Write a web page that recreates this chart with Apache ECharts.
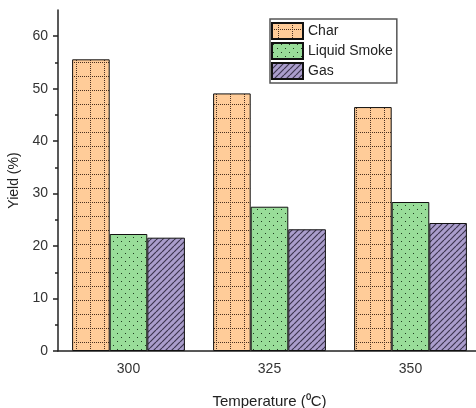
<!DOCTYPE html>
<html><head><meta charset="utf-8">
<script src="https://cdn.jsdelivr.net/npm/echarts@6/dist/echarts.min.js"></script>
<style>html,body{margin:0;padding:0;background:#fff}#c{width:476px;height:408px}</style>
</head><body><div id="c"></div>
<script>
const categories = ['300', '325', '350'];
const charValues = [55.6, 49.1, 46.5];
const liquidSmokeValues = [22.3, 27.5, 28.4];
const gasValues = [21.6, 23.2, 24.4];
const yTickValues = [0, 10, 20, 30, 40, 50, 60];
const yMinorTickValues = [5, 15, 25, 35, 45, 55];

function makePattern(kind) {
  const c = document.createElement('canvas');
  const ctx = c.getContext('2d');
  if (kind === 'char') {
    c.width = 14; c.height = 14;
    ctx.fillStyle = '#FFCC99'; ctx.fillRect(0, 0, 14, 14);
    ctx.fillStyle = '#4a3020';
    for (let i = 0; i < 14; i += 2) {
      ctx.fillRect(i, 6, 1, 1);
      ctx.fillRect(6, i, 1, 1);
    }
  } else if (kind === 'liquid') {
    c.width = 8; c.height = 8;
    ctx.fillStyle = '#99DD99'; ctx.fillRect(0, 0, 8, 8);
    ctx.fillStyle = '#1e3a1e';
    ctx.fillRect(1, 1, 1, 1);
    ctx.fillRect(5, 5, 1, 1);
  } else {
    c.width = 6; c.height = 6;
    ctx.fillStyle = '#AA9DCC'; ctx.fillRect(0, 0, 6, 6);
    ctx.strokeStyle = '#3d3550'; ctx.lineWidth = 1.2;
    ctx.beginPath();
    for (let k = -6; k <= 12; k += 6) {
      ctx.moveTo(k, 6); ctx.lineTo(k + 6, 0);
    }
    ctx.stroke();
  }
  return { image: c, repeat: 'repeat' };
}

const chart = echarts.init(document.getElementById('c'), null, { renderer: 'canvas' });
const axisColor = '#222';
const font = 'Liberation Sans, Arial, sans-serif';

function barSeries(name, data, kind) {
  return {
    name: name, type: 'bar', data: data, xAxisIndex: 0, yAxisIndex: 0,
    barGap: '0%', barCategoryGap: '20%',
    itemStyle: { color: makePattern(kind), borderColor: '#111', borderWidth: 1 },
    emphasis: { disabled: true }
  };
}

chart.setOption({
  animation: false,
  grid: { left: 58, right: -5, top: 10, bottom: 57, containLabel: false, outerBoundsMode: 'none' },
  legend: {
    left: 270, top: 19, orient: 'vertical',
    itemWidth: 31, itemHeight: 16, itemGap: 2,
    padding: [3, 4, 3, 1],
    borderColor: '#555', borderWidth: 1.5,
    icon: 'rect',
    textStyle: { fontFamily: font, fontSize: 14, color: '#222' },
    data: ['Char', 'Liquid Smoke', 'Gas']
  },
  xAxis: [{
    type: 'category', data: categories,
    name: 'Temperature (⁰C)', nameLocation: 'middle', nameGap: 43,
    nameTextStyle: { fontFamily: font, fontSize: 15, color: '#222' },
    axisLine: { lineStyle: { color: axisColor, width: 1.5 } },
    axisTick: { alignWithLabel: true, length: 5, lineStyle: { color: axisColor, width: 1.5 } },
    axisLabel: { fontFamily: font, fontSize: 14, color: '#333', margin: 11 },
    splitLine: { show: false }
  }, {
    type: 'category', data: categories, position: 'bottom',
    axisLine: { show: false },
    axisTick: { length: 3, lineStyle: { color: axisColor, width: 1.5 } },
    axisLabel: { show: false }, splitLine: { show: false }
  }],
  yAxis: [{
    type: 'value', min: 0, max: 65, interval: 10,
    name: 'Yield (%)', nameLocation: 'middle', nameGap: 34, nameRotate: 90,
    nameTextStyle: { fontFamily: font, fontSize: 14, color: '#222' },
    axisLine: { show: true, lineStyle: { color: axisColor, width: 1.5 } },
    axisTick: { show: true, length: 5, customValues: yTickValues, lineStyle: { color: axisColor, width: 1.5 } },
    axisLabel: { fontFamily: font, fontSize: 14, color: '#333', margin: 10, customValues: yTickValues },
    splitLine: { show: false }
  }, {
    type: 'value', min: 0, max: 65, position: 'left',
    axisLine: { show: false },
    axisTick: { show: true, length: 3, customValues: yMinorTickValues, lineStyle: { color: axisColor, width: 1.5 } },
    axisLabel: { show: false }, splitLine: { show: false }
  }],
  series: [
    barSeries('Char', charValues, 'char'),
    barSeries('Liquid Smoke', liquidSmokeValues, 'liquid'),
    barSeries('Gas', gasValues, 'gas')
  ]
});
</script></body></html>
